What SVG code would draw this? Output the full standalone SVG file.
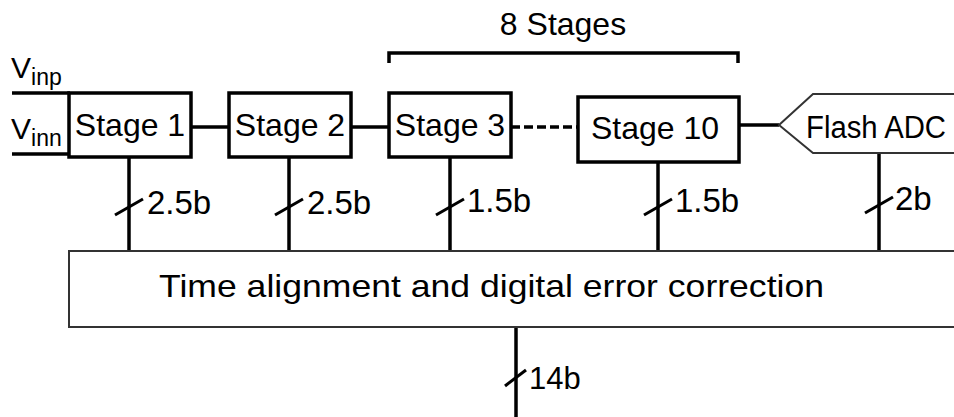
<svg xmlns="http://www.w3.org/2000/svg" width="954" height="417" viewBox="0 0 954 417">
<style>
text{font-family:"Liberation Sans",Arial,sans-serif;fill:#000}
.box{fill:#fff;stroke:#000;stroke-width:3.5}
.lbl{font-size:32px;text-anchor:middle}
.bit{font-size:33px}
.w{stroke:#000;stroke-width:3.5;fill:none}
.sl{stroke:#000;stroke-width:3;fill:none}
</style>
<rect width="954" height="417" fill="#fff"/>
<g id="inputs">
<text x="11" y="78" font-size="30">V<tspan font-size="23" dy="7">inp</tspan></text>
<text x="11" y="139" font-size="30">V<tspan font-size="23" dy="7">inn</tspan></text>
</g>
<g id="bracket">
<path class="w" d="M389,63 V53 H738 V63"/>
<text x="563" y="35" class="lbl">8 Stages</text>
</g>
<g id="connectors">
<line class="w" x1="12" y1="93" x2="70" y2="93"/>
<line class="w" x1="12" y1="154" x2="70" y2="154"/>
<line class="w" x1="191" y1="127" x2="228" y2="127"/>
<line class="w" x1="351" y1="127" x2="388" y2="127"/>
<line class="w" x1="511" y1="127" x2="577" y2="127" stroke-dasharray="9,4"/>
<line class="w" x1="739" y1="125" x2="779" y2="125"/>
<line class="w" x1="129" y1="157" x2="129" y2="251"/>
<line class="w" x1="289" y1="157" x2="289" y2="251"/>
<line class="w" x1="450" y1="157" x2="450" y2="251"/>
<line class="w" x1="658" y1="162" x2="658" y2="251"/>
<line class="w" x1="879" y1="153" x2="879" y2="251"/>
<line class="w" x1="516" y1="327" x2="516" y2="417"/>
<line class="sl" x1="115" y1="215" x2="143" y2="199"/>
<line class="sl" x1="275" y1="215" x2="303" y2="199"/>
<line class="sl" x1="436" y1="215" x2="464" y2="199"/>
<line class="sl" x1="644" y1="215" x2="672" y2="199"/>
<line class="sl" x1="865" y1="213" x2="893" y2="197"/>
<line class="sl" x1="505" y1="386" x2="526" y2="370"/>
<text x="147" y="214" class="bit">2.5b</text>
<text x="307" y="214" class="bit">2.5b</text>
<text x="467" y="212" class="bit">1.5b</text>
<text x="675" y="212" class="bit">1.5b</text>
<text x="895" y="210" class="bit">2b</text>
<text x="529" y="389" font-size="31">14b</text>
</g>
<g id="stage1">
<rect class="box" x="69" y="93" width="122" height="64"/>
<text x="130" y="136" class="lbl">Stage 1</text>
</g>
<g id="stage2">
<rect class="box" x="229" y="93" width="122" height="64"/>
<text x="290" y="136" class="lbl">Stage 2</text>
</g>
<g id="stage3">
<rect class="box" x="389" y="93" width="122" height="64"/>
<text x="450" y="136" class="lbl">Stage 3</text>
</g>
<g id="stage10">
<rect class="box" x="578" y="97" width="161" height="65"/>
<text x="655" y="139" class="lbl">Stage 10</text>
</g>
<g id="flash">
<polygon points="779,125 813,94 962,94 962,153 813,153" fill="#fff" stroke="#333" stroke-width="2"/>
<text x="806" y="138" font-size="31" textLength="140" lengthAdjust="spacingAndGlyphs">Flash ADC</text>
</g>
<g id="correction">
<rect x="69" y="251" width="900" height="76" fill="#fff" stroke="#333" stroke-width="2"/>
<text x="159" y="297" font-size="32" textLength="665" lengthAdjust="spacingAndGlyphs">Time alignment and digital error correction</text>
</g>
</svg>
